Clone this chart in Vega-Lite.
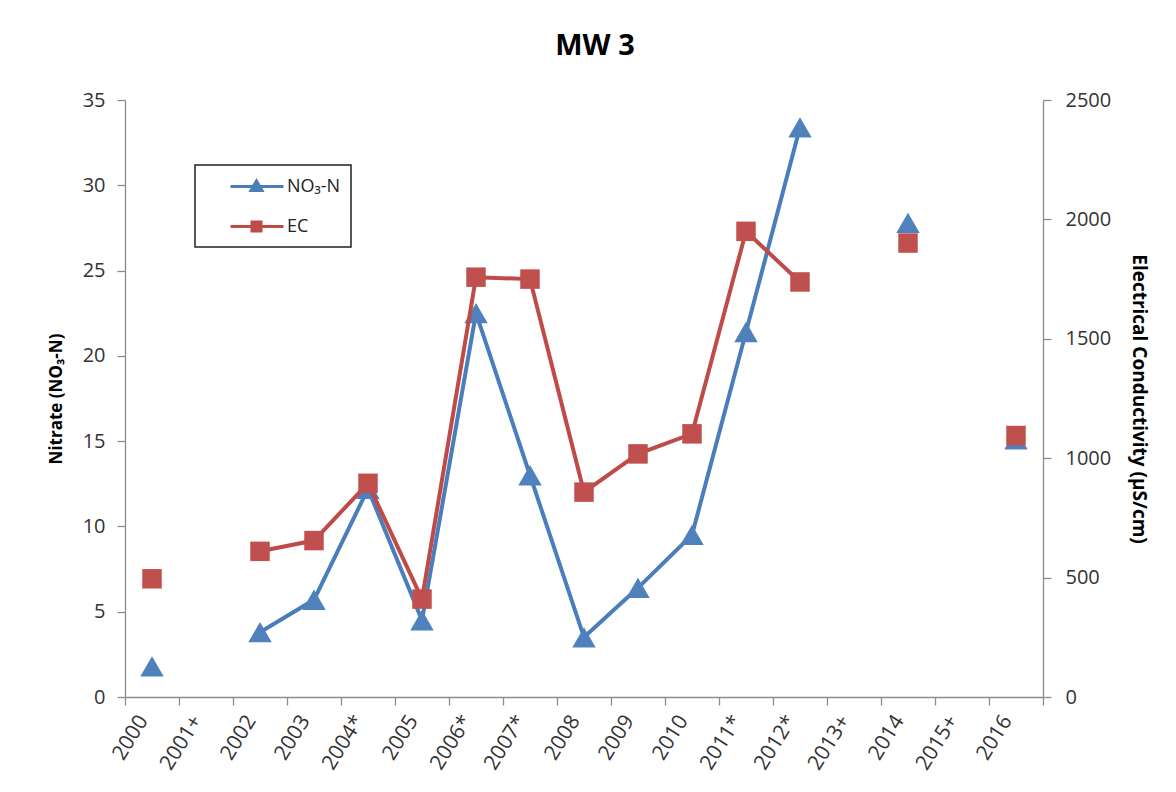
{
  "$schema": "https://vega.github.io/schema/vega-lite/v6.json",
  "width": 918,
  "height": 597,
  "autosize": "none",
  "padding": {"left": 125, "top": 100, "right": 133, "bottom": 95},
  "background": "white",
  "config": {
    "font": "Open Sans",
    "view": {"stroke": null},
    "axis": {
      "grid": false,
      "domainColor": "#8c8c8c",
      "tickColor": "#8c8c8c",
      "domainWidth": 1.3,
      "tickWidth": 1.3,
      "tickSize": 8,
      "labelColor": "#333333",
      "labelFontSize": 20,
      "labelFont": "Open Sans",
      "titleFont": "Open Sans",
      "titleFontSize": 17,
      "titleFontWeight": "bold",
      "titleColor": "black"
    }
  },
  "title": {
    "text": "MW 3",
    "font": "Open Sans",
    "fontSize": 29,
    "fontWeight": "bold",
    "color": "black",
    "anchor": "middle",
    "baseline": "alphabetic",
    "offset": 6,
    "dx": 11
  },
  "data": {
    "values": [
      {"year": "2000", "series": "NO₃-N", "value": 1.8},
      {"year": "2001+", "series": "NO₃-N", "value": null},
      {"year": "2002", "series": "NO₃-N", "value": 3.8},
      {"year": "2003", "series": "NO₃-N", "value": 5.7},
      {"year": "2004*", "series": "NO₃-N", "value": 12.2},
      {"year": "2005", "series": "NO₃-N", "value": 4.5},
      {"year": "2006*", "series": "NO₃-N", "value": 22.5},
      {"year": "2007*", "series": "NO₃-N", "value": 13.0},
      {"year": "2008", "series": "NO₃-N", "value": 3.5},
      {"year": "2009", "series": "NO₃-N", "value": 6.4},
      {"year": "2010", "series": "NO₃-N", "value": 9.5},
      {"year": "2011*", "series": "NO₃-N", "value": 21.4},
      {"year": "2012*", "series": "NO₃-N", "value": 33.4},
      {"year": "2013+", "series": "NO₃-N", "value": null},
      {"year": "2014", "series": "NO₃-N", "value": 27.8},
      {"year": "2015+", "series": "NO₃-N", "value": null},
      {"year": "2016", "series": "NO₃-N", "value": 15.1},
      {"year": "2000", "series": "EC", "value": 495},
      {"year": "2001+", "series": "EC", "value": null},
      {"year": "2002", "series": "EC", "value": 610},
      {"year": "2003", "series": "EC", "value": 655},
      {"year": "2004*", "series": "EC", "value": 895},
      {"year": "2005", "series": "EC", "value": 410},
      {"year": "2006*", "series": "EC", "value": 1758},
      {"year": "2007*", "series": "EC", "value": 1750},
      {"year": "2008", "series": "EC", "value": 858},
      {"year": "2009", "series": "EC", "value": 1018},
      {"year": "2010", "series": "EC", "value": 1102},
      {"year": "2011*", "series": "EC", "value": 1950},
      {"year": "2012*", "series": "EC", "value": 1738},
      {"year": "2013+", "series": "EC", "value": null},
      {"year": "2014", "series": "EC", "value": 1901},
      {"year": "2015+", "series": "EC", "value": null},
      {"year": "2016", "series": "EC", "value": 1095}
    ]
  },
  "encoding": {
    "x": {
      "field": "year",
      "type": "ordinal",
      "sort": null,
      "scale": {
        "type": "band",
        "paddingInner": 0,
        "paddingOuter": 0,
        "domain": ["2000", "2001+", "2002", "2003", "2004*", "2005", "2006*", "2007*", "2008", "2009", "2010", "2011*", "2012*", "2013+", "2014", "2015+", "2016"]
      },
      "axis": {
        "title": null,
        "labelAngle": -58,
        "labelAlign": "right",
        "labelBaseline": "middle",
        "labelFontSize": 21,
        "labelPadding": 12,
        "labelOffset": -9,
        "tickBand": "extent"
      }
    }
  },
  "layer": [
    {
      "transform": [{"filter": "datum.series === 'NO₃-N'"}],
      "encoding": {
        "y": {
          "field": "value",
          "type": "quantitative",
          "scale": {"domain": [0, 35], "nice": false},
          "axis": {
            "title": "Nitrate (NO₃-N)",
            "values": [0, 5, 10, 15, 20, 25, 30, 35],
            "labelPadding": 12,
            "titlePadding": 17
          }
        }
      },
      "layer": [
        {
          "mark": {"type": "line", "strokeWidth": 4},
          "encoding": {
            "color": {
              "field": "series",
              "type": "nominal",
              "scale": {"domain": ["NO₃-N", "EC"], "range": ["#4A7EBB", "#BE4B48"]},
              "legend": {
                "title": null,
                "orient": "none",
                "legendX": 70,
                "legendY": 65,
                "padding": 10,
                "strokeColor": "#222222",
                "fillColor": "white",
                "symbolSize": 400,
                "symbolStrokeWidth": 3,
                "rowPadding": 18,
                "labelOffset": 59,
                "labelFontSize": 18,
                "labelColor": "#222222",
                "labelFont": "Open Sans",
                "encode": {
                  "legend": {
                    "update": {"strokeWidth": {"value": 1.5}}
                  },
                  "symbols": {
                    "update": {
                      "shape": {"signal": "datum.value === 'EC' ? 'M1.4,0H6.7M3.55,-0.45H4.45V0.45H3.55Z' : 'M1.4,0H6.7M4.0,-0.55L4.55,0.4L3.45,0.4Z'"},
                      "fill": {"signal": "datum.value === 'EC' ? '#C0504D' : '#4F81BD'"},
                      "stroke": {"signal": "datum.value === 'EC' ? '#BE4B48' : '#4A7EBB'"},
                      "strokeWidth": {"value": 3},
                      "opacity": {"value": 1},
                      "fillOpacity": {"value": 1}
                    }
                  }
                }
              }
            }
          }
        },
        {
          "mark": {"type": "point", "shape": "triangle-up", "filled": true, "size": 550, "opacity": 1, "color": "#4F81BD"}
        }
      ]
    },
    {
      "transform": [{"filter": "datum.series === 'EC'"}],
      "encoding": {
        "y": {
          "field": "value",
          "type": "quantitative",
          "scale": {"domain": [0, 2500], "nice": false},
          "axis": {
            "orient": "right",
            "title": "Electrical Conductivity (µS/cm)",
            "titleFontSize": 19,
            "format": "d",
            "values": [0, 500, 1000, 1500, 2000, 2500],
            "labelPadding": 14,
            "titlePadding": 18
          }
        }
      },
      "layer": [
        {
          "mark": {"type": "line", "strokeWidth": 4},
          "encoding": {
            "color": {"field": "series", "type": "nominal"}
          }
        },
        {
          "mark": {"type": "point", "shape": "square", "filled": true, "size": 380, "opacity": 1, "color": "#C0504D"}
        }
      ]
    }
  ],
  "resolve": {"scale": {"y": "independent"}}
}
